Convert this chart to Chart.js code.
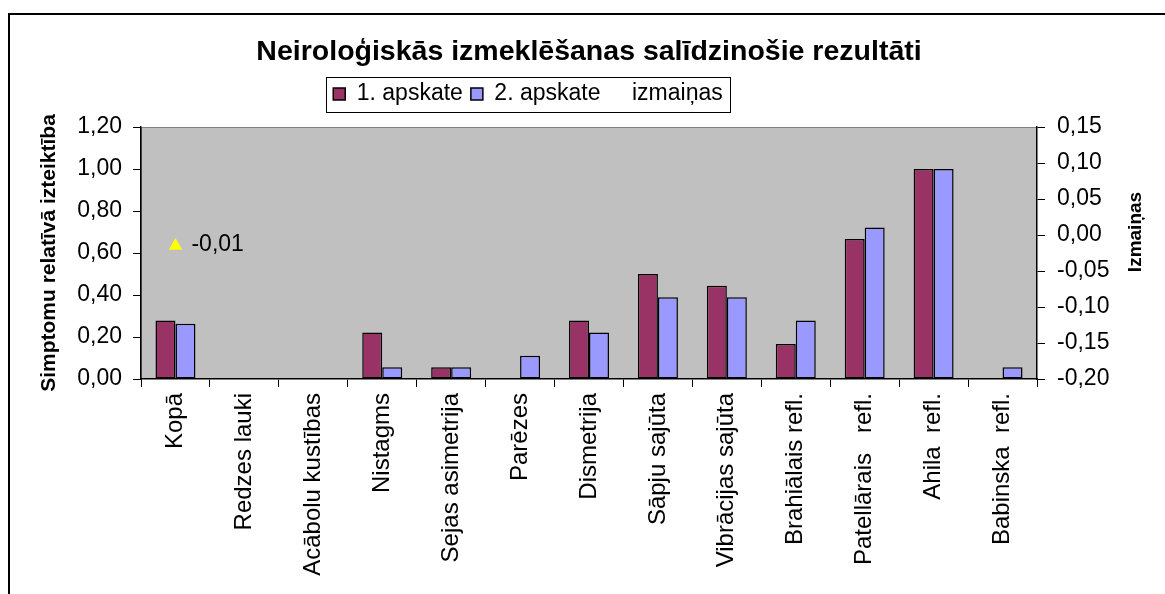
<!DOCTYPE html>
<html>
<head>
<meta charset="utf-8">
<script src="https://cdn.jsdelivr.net/npm/chart.js@4.4.1/dist/chart.umd.min.js"></script>
<style>
  html, body { margin: 0; padding: 0; background: #fff; }
  #wrap { width: 1165px; height: 594px; }
</style>
</head>
<body>
<div id="wrap"><canvas id="myChart" width="1165" height="594"></canvas></div>
<script>
// data
const categories = ['Kopā', 'Redzes lauki', 'Acābolu kustības', 'Nistagms', 'Sejas asimetrija', 'Parēzes',
    'Dismetrija', 'Sāpju sajūta', 'Vibrācijas sajūta', 'Brahiālais refl.', 'Patellārais   refl.',
    'Ahila  refl.', 'Babinska  refl.'];
const apskate1 = [0.278, 0, 0, 0.222, 0.056, 0, 0.278, 0.5, 0.444, 0.167, 0.667, 1.0, 0];
const apskate2 = [0.263, 0, 0, 0.056, 0.056, 0.111, 0.222, 0.389, 0.389, 0.278, 0.722, 1.0, 0.056];
const izmainas = [-0.015, null, null, null, null, null, null, null, null, null, null, null, null];

const FONT = '"Liberation Sans", Arial, sans-serif';
// comma decimals, and no "-0,00" from float noise
const fmt = v => (Math.abs(v) < 1e-9 ? 0 : v).toFixed(2).replace('.', ',');

Chart.defaults.font.family = FONT;
Chart.defaults.color = '#000';

// background, frame, legend box, right axis title, point label
const extras = {
    id: 'extras',
    afterLayout(chart) {
        // legend sits left of centre in the original
        chart.legend.right -= 109;
        chart.legend.width -= 109;
    },
    beforeDraw(chart) {
        const { ctx, chartArea: a } = chart;
        ctx.save();
        ctx.fillStyle = '#fff';
        ctx.fillRect(0, 0, chart.width, chart.height);
        ctx.strokeStyle = '#000';
        ctx.lineWidth = 2;
        ctx.beginPath();
        ctx.moveTo(9, chart.height);
        ctx.lineTo(9, 14);
        ctx.lineTo(chart.width, 14);
        ctx.stroke();
        ctx.fillStyle = '#C0C0C0';
        ctx.fillRect(a.left, a.top, a.right - a.left, a.bottom - a.top);
        ctx.strokeStyle = '#808080';
        ctx.lineWidth = 1;
        ctx.strokeRect(a.left + 0.5, a.top + 0.5, a.right - a.left - 1, a.bottom - a.top - 1);
        ctx.restore();
    },
    afterDraw(chart) {
        const { ctx, chartArea: a } = chart;
        ctx.save();

        // legend frame
        const hb = chart.legend.legendHitBoxes;
        if (hb && hb.length) {
            const l = hb[0].left - 7;
            const r = hb[hb.length - 1].left + hb[hb.length - 1].width + 7;
            const t = hb[0].top - 6;
            const b = hb[0].top + hb[0].height + 6;
            ctx.strokeStyle = '#000';
            ctx.lineWidth = 1;
            ctx.strokeRect(Math.round(l) + 0.5, Math.round(t) + 0.5, Math.round(r - l), Math.round(b - t));
        }

        // right axis title, reads bottom to top
        ctx.font = 'bold 19px ' + FONT;
        ctx.fillStyle = '#000';
        ctx.textAlign = 'center';
        ctx.textBaseline = 'middle';
        ctx.translate(a.right + 99, 232);
        ctx.rotate(-Math.PI / 2);
        ctx.fillText('Izmaiņas', 0, 0);
        ctx.setTransform(1, 0, 0, 1, 0, 0);

        // value label next to the triangle
        const meta = chart.getDatasetMeta(2);
        ctx.font = '23px ' + FONT;
        ctx.textAlign = 'left';
        meta.data.forEach((pt, i) => {
            if (izmainas[i] === null) return;
            ctx.fillText(fmt(izmainas[i]), pt.x + 16, pt.y - 1);
        });
        ctx.restore();
    }
};

const ctx = document.getElementById('myChart').getContext('2d');
new Chart(ctx, {
    data: {
        labels: categories,
        datasets: [
            {
                type: 'bar',
                label: '1. apskate',
                data: apskate1,
                backgroundColor: '#993366',
                borderColor: '#000',
                borderWidth: 1.5,
                borderSkipped: false,
                categoryPercentage: 0.58,
                barPercentage: 1.0,
                yAxisID: 'y'
            },
            {
                type: 'bar',
                label: '2. apskate',
                data: apskate2,
                backgroundColor: '#9999FF',
                borderColor: '#000',
                borderWidth: 1.5,
                borderSkipped: false,
                categoryPercentage: 0.58,
                barPercentage: 1.0,
                yAxisID: 'y'
            },
            {
                type: 'line',
                label: 'izmaiņas',
                data: izmainas,
                showLine: false,
                pointStyle: 'triangle',
                pointRadius: 7.7,
                backgroundColor: '#FFFF00',
                borderColor: '#FFFF00',
                borderWidth: 0,
                yAxisID: 'y1'
            }
        ]
    },
    options: {
        responsive: false,
        animation: false,
        events: [],
        layout: { padding: 0 },
        plugins: {
            title: {
                display: true,
                fullSize: false,
                text: 'Neiroloģiskās izmeklēšanas salīdzinošie rezultāti',
                font: { size: 28.5, weight: 'bold', lineHeight: 1.2 },
                padding: { top: 34.9, bottom: 5.4 }
            },
            subtitle: {
                display: true,
                fullSize: false,
                text: '',
                font: { size: 10, lineHeight: 1.15 },
                padding: 0
            },
            legend: {
                weight: 1800,
                labels: {
                    font: { size: 23 },
                    boxWidth: 12,
                    boxHeight: 12,
                    padding: 8,
                    generateLabels(chart) {
                        const items = Chart.defaults.plugins.legend.labels.generateLabels(chart);
                        items.forEach(it => {
                            if (it.datasetIndex === 2) {
                                it.fillStyle = 'rgba(0,0,0,0)';
                                it.strokeStyle = 'rgba(0,0,0,0)';
                                it.lineWidth = 0;
                            }
                        });
                        return items;
                    }
                }
            },
            tooltip: { enabled: false }
        },
        scales: {
            x: {
                type: 'category',
                offset: true,
                grid: { offset: true, drawOnChartArea: false, drawTicks: true, tickLength: 8, color: '#000' },
                border: { color: '#000', width: 1.5 },
                ticks: { autoSkip: false, minRotation: 90, maxRotation: 90, padding: 6, font: { size: 24 } },
                afterFit(scale) { scale.height = 215; }
            },
            y: {
                position: 'left',
                min: 0,
                max: 1.2,
                ticks: { stepSize: 0.2, padding: 11, font: { size: 23 }, callback: v => fmt(v) },
                grid: { drawOnChartArea: false, drawTicks: true, tickLength: 8, color: '#000' },
                border: { color: '#000', width: 1.5 },
                title: {
                    display: true,
                    text: 'Simptomu relatīvā izteiktība',
                    font: { size: 21, weight: 'bold', lineHeight: 1.2 },
                    padding: { top: 37, bottom: 0 }
                },
                afterFit(scale) { scale.width = 141; }
            },
            y1: {
                position: 'right',
                min: -0.2,
                max: 0.15,
                ticks: { stepSize: 0.05, padding: 12, font: { size: 23 }, callback: v => fmt(v) },
                grid: { drawOnChartArea: false, drawTicks: true, tickLength: 8, color: '#000' },
                border: { color: '#000', width: 1.5 },
                afterFit(scale) { scale.width = 128; }
            }
        }
    },
    plugins: [extras]
});
</script>
</body>
</html>
